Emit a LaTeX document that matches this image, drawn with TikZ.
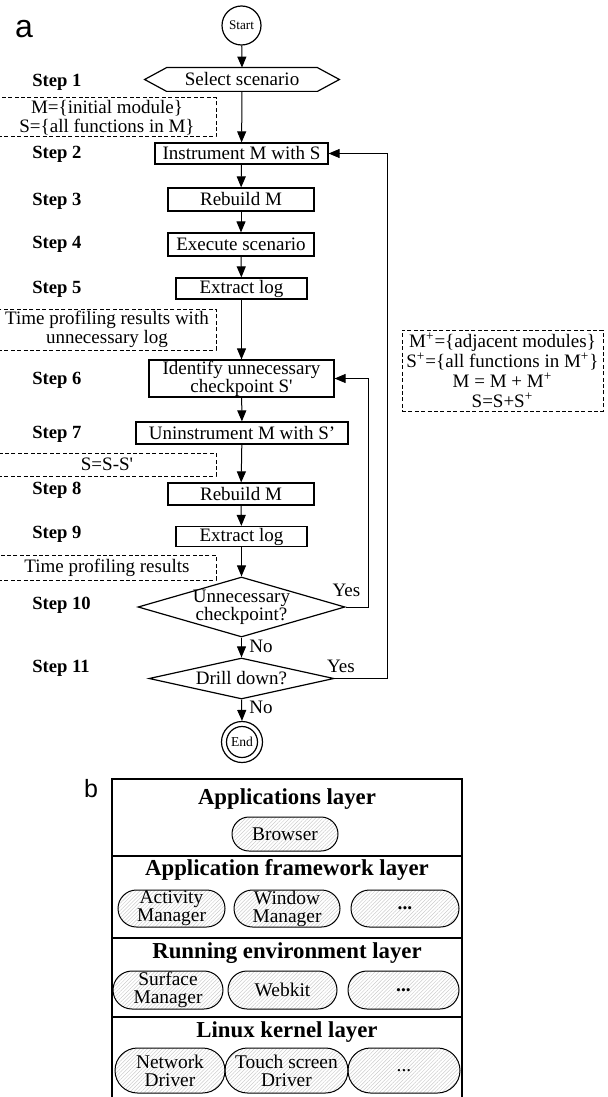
\documentclass[tikz,border=0pt]{standalone}
\usepackage{fontspec}
\setmainfont{Liberation Serif}[Ligatures=TeXOff]
\newfontfamily\panelfont{Liberation Sans}
\usetikzlibrary{shapes.geometric, shapes.misc, arrows.meta, patterns.meta, positioning}
\tikzset{
    process/.style={
        rectangle, draw=black, line width=0.6pt,
        minimum height=11pt, inner sep=0pt, align=center,
        fill=white, font=\fontsize{9.5}{9}\selectfont
    },
    note/.style={
        rectangle, draw=black, line width=0.5pt, dash pattern=on 2pt off 1.2pt,
        minimum width=109pt, inner sep=0pt, align=center,
        font=\fontsize{9.5}{9.2}\selectfont
    },
    steplabel/.style={anchor=west, inner sep=0pt, font=\fontsize{9.3}{10}\selectfont\bfseries},
    decision/.style={diamond, draw=black, line width=0.6pt, inner sep=0pt},
    terminal/.style={circle, draw=black, line width=0.6pt, inner sep=0pt},
    wire/.style={draw=black, line width=0.5pt, -{Triangle[length=5.5pt,width=4.5pt]}},
    branch/.style={inner sep=0pt, font=\fontsize{9.5}{10}\selectfont},
    layerbox/.style={rectangle, draw=black, line width=0.6pt, minimum width=175pt, inner sep=0pt},
    layer/.style={inner sep=0pt, font=\fontsize{11.4}{12}\selectfont\bfseries},
    module/.style={
        rounded rectangle, draw=black, line width=0.5pt,
        pattern={Lines[angle=45,distance=1.3pt,line width=0.25pt]}, pattern color=gray!40,
        inner sep=0pt, align=center, font=\fontsize{9.7}{9}\selectfont
    }
}

\begin{document}
\begin{tikzpicture}[x=0.5pt, y=-0.5pt]
\useasboundingbox (0,0) rectangle (607,1097);

% Panel a
\node[inner sep=0pt, font=\fontsize{16}{16}\selectfont\panelfont] (lbla) at (24,29) {a};

\node[terminal, minimum size=19.5pt, font=\fontsize{6.6}{7}\selectfont] (start) at (241.5,25.5) {Start};

% Select scenario (hexagon)
\node[minimum width=75pt, minimum height=11.5pt, inner sep=0pt, font=\fontsize{9.5}{9}\selectfont] (select) at (242,79.5) {Select scenario};
\draw[line width=0.6pt] (select.north west) -- (select.north east) -- ([xshift=11pt]select.east)
    -- (select.south east) -- (select.south west) -- ([xshift=-11pt]select.west) -- cycle;

% Steps
\node[process, minimum width=86.5pt, minimum height=10.5pt] (instr) at (241.5,153.5) {Instrument M with S};
\node[process, minimum width=73pt, minimum height=11.5pt] (rebuild1) at (241,199.5) {Rebuild M};
\node[process, minimum width=73pt, minimum height=11.5pt] (exec) at (241,244.5) {Execute scenario};
\node[process, minimum width=65.5pt, minimum height=10.5pt] (extract1) at (241.5,288.5) {Extract log};
\node[process, minimum width=92.5pt, minimum height=18.5pt] (identify) at (241.5,378.5) {Identify unnecessary\\checkpoint S'};
\node[process, minimum width=106pt] (uninstr) at (242,433) {Uninstrument M with S’};
\node[process, minimum width=73pt] (rebuild2) at (241,494) {Rebuild M};
\node[process, minimum width=65.5pt, minimum height=10pt] (extract2) at (241.5,536.5) {Extract log};

\node[decision, minimum width=103.5pt, minimum height=30pt] (check) at (241.5,607) {};
\node[branch, align=center, font=\fontsize{9.5}{9}\selectfont] at (check) {Unnecessary\\checkpoint?};
\node[decision, minimum width=92.5pt, minimum height=20.5pt] (drill) at (241.5,678.5) {};
\node[branch] at (drill) {Drill down?};

\node[terminal, minimum size=20.5pt] (finish) at (242,742) {};
\node[terminal, minimum size=15.5pt, font=\fontsize{6.8}{7}\selectfont] (finishin) at (finish) {End};

% Step labels
\node[steplabel] (s1) at (32,82) {Step 1};
\node[steplabel] (s2) at (32,154) {Step 2};
\node[steplabel] (s3) at (32,201) {Step 3};
\node[steplabel] (s4) at (32,244) {Step 4};
\node[steplabel] (s5) at (32,289) {Step 5};
\node[steplabel] (s6) at (32,380) {Step 6};
\node[steplabel] (s7) at (32,434) {Step 7};
\node[steplabel] (s8) at (32,490) {Step 8};
\node[steplabel] (s9) at (32,534) {Step 9};
\node[steplabel] (s10) at (32,605) {Step 10};
\node[steplabel] (s11) at (32,668) {Step 11};

% Notes
\node[note, minimum height=19.5pt] (init) at (107,117.5) {M=\{initial module\}\\S=\{all functions in M\}};
\node[note, minimum height=20.5pt] (prof1) at (107,329.5) {Time profiling results with\\unnecessary log};
\node[note, minimum height=11.5pt] (diff) at (107,464.5) {S=S-S'};
\node[note, minimum height=12.5pt] (prof2) at (107,567.5) {Time profiling results};
\node[note, minimum width=100.5pt, minimum height=40.5pt, font=\fontsize{9.5}{10}\selectfont] (expand) at (502.5,370.5)
    {M\textsuperscript{+}=\{adjacent modules\}\\S\textsuperscript{+}=\{all functions in M\textsuperscript{+}\}\\M = M + M\textsuperscript{+}\\S=S+S\textsuperscript{+}};

% Flow
\draw[wire] (start) -- (select.north);
\draw[wire] (select.south) -- (instr);
\draw[wire] (instr) -- (rebuild1);
\draw[wire] (rebuild1) -- (exec);
\draw[wire] (exec) -- (extract1);
\draw[wire] (extract1) -- (identify);
\draw[wire] (identify) -- (uninstr);
\draw[wire] (uninstr) -- (rebuild2);
\draw[wire] (rebuild2) -- (extract2);
\draw[wire] (extract2) -- (check.north);
\draw[wire] (check.south) -- (drill.north);
\draw[wire] (drill.south) -- (finish.north);

% Loops back
\coordinate (loopB) at (368,378.5);
\coordinate (loopA) at (387,153.5);
\draw[wire] (check.east) -| (loopB) -- (identify.east);
\draw[wire] (drill.east) -| (loopA) -- (instr.east);

\node[branch] (yes1) at (346.5,590) {Yes};
\node[branch] (yes2) at (341,666) {Yes};
\node[branch] (no1) at (261,646) {No};
\node[branch] (no2) at (261,707) {No};

% Panel b
\node[font=\fontsize{12.5}{12}\selectfont\panelfont, inner sep=0pt] (lblb) at (91,789) {b};

\node[layerbox, minimum height=38.5pt] (lay1) at (287,817.5) {};
\node[layerbox, minimum height=41pt] (lay2) at (287,897) {};
\node[layerbox, minimum height=39.5pt] (lay3) at (287,977.5) {};
\node[layerbox, minimum height=44pt] (lay4) at (287,1061) {};

\node[layer] (t1) at (287,799) {Applications layer};
\node[layer] (t2) at (287,870) {Application framework layer};
\node[layer] (t3) at (287,953) {Running environment layer};
\node[layer] (t4) at (287,1032) {Linux kernel layer};

\node[module, minimum width=53pt, minimum height=17pt] (browser) at (285,834) {Browser};

\node[module, minimum width=53.5pt, minimum height=18.5pt] (actmgr) at (171.5,908.5) {Activity\\Manager};
\node[module, minimum width=53pt, minimum height=18.5pt] (winmgr) at (287,908.5) {Window\\Manager};
\node[module, minimum width=54pt, minimum height=18.5pt] (fwmore) at (405,908.5) {\textbf{...}};

\node[module, minimum width=55pt, minimum height=19pt] (surfmgr) at (168,990) {Surface\\Manager};
\node[module, minimum width=54.5pt, minimum height=19pt] (webkit) at (282.5,990) {Webkit};
\node[module, minimum width=55.5pt, minimum height=19pt] (envmore) at (403.5,990) {\textbf{...}};

\node[module, minimum width=55pt, minimum height=22.5pt] (netdrv) at (170,1070.5) {Network\\Driver};
\node[module, minimum width=61.5pt, minimum height=22.5pt] (touchdrv) at (286.5,1070.5) {Touch screen\\Driver};
\node[module, minimum width=56pt, minimum height=22.5pt] (kernmore) at (404,1070.5) {...};

\end{tikzpicture}
\end{document}
